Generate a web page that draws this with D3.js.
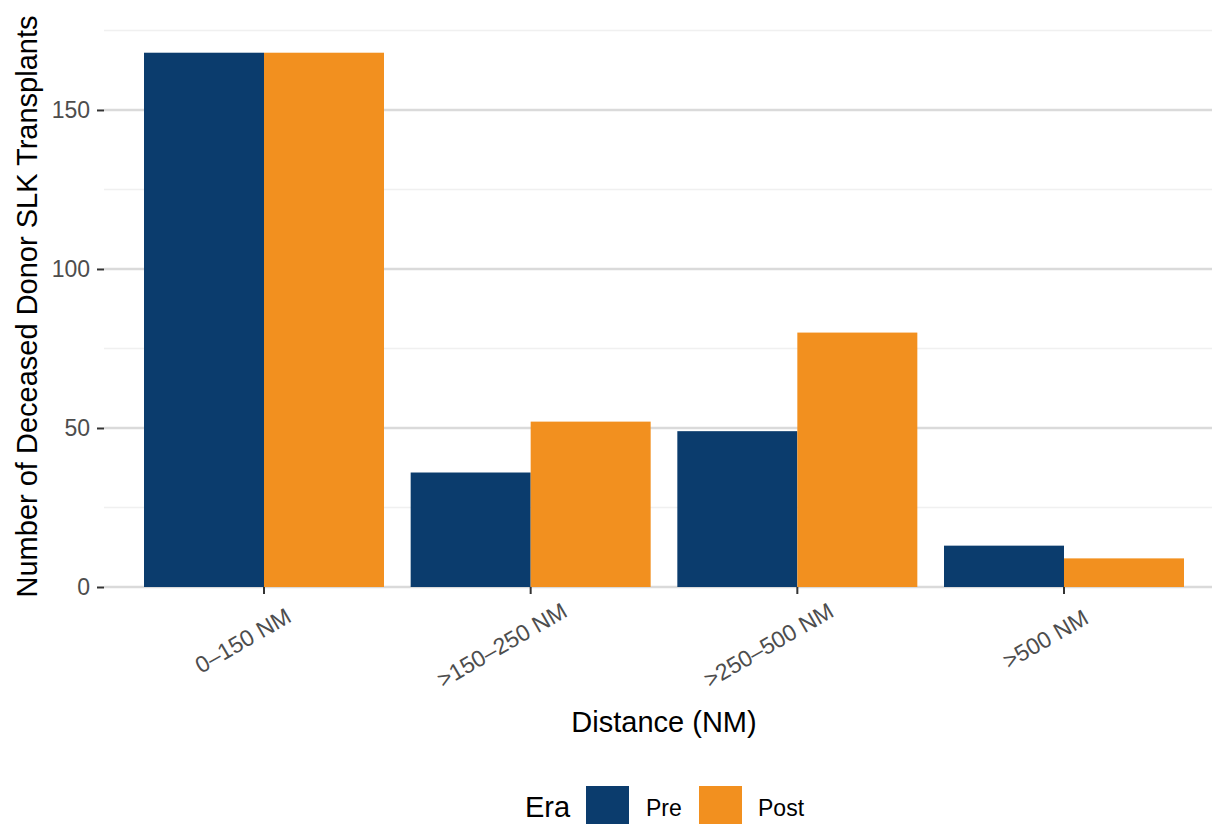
<!DOCTYPE html>
<html>
<head>
<meta charset="utf-8">
<script src="https://cdn.jsdelivr.net/npm/d3@7"></script>
<style>
  html, body { margin: 0; padding: 0; background: #ffffff; }
  svg { display: block; }
  text { font-family: "Liberation Sans", Arial, Helvetica, sans-serif; }
</style>
</head>
<body>
<svg id="chart" width="1212" height="824"></svg>
<script>
// ---- data ----
const categories = ["0\u2013150 NM", ">150\u2013250 NM", ">250\u2013500 NM", ">500 NM"];
const eras = ["Pre", "Post"];
const preValues = [168, 36, 49, 13];
const postValues = [168, 52, 80, 9];
const yTicks = [0, 50, 100, 150];
const yMinorTicks = [25, 75, 125, 175];
const eraColors = ["#0b3c6d", "#f2901f"];

const rows = categories.map((c, i) => ({ cat: c, Pre: preValues[i], Post: postValues[i] }));

// ---- layout ----
const svg = d3.select("#chart");
const W = 1212, H = 824;
const panel = { left: 104, right: 1224, top: 26, bottom: 587 };
const maxVal = d3.max([...preValues, ...postValues]);

const x = d3.scaleBand().domain(categories)
  .range([panel.left, panel.right]).paddingInner(0.1).paddingOuter(0.15);
const xe = d3.scaleBand().domain(eras).range([0, x.bandwidth()]).padding(0);
const y = d3.scaleLinear().domain([0, maxVal * 1.05]).range([panel.bottom, panel.top]);
const color = d3.scaleOrdinal().domain(eras).range(eraColors);

// gridlines
const g = svg.append("g");
g.selectAll("line.minor").data(yMinorTicks).join("line")
  .attr("x1", panel.left).attr("x2", panel.right)
  .attr("y1", d => y(d)).attr("y2", d => y(d))
  .attr("stroke", "#f0f0f0").attr("stroke-width", 1.4);
g.selectAll("line.major").data(yTicks).join("line")
  .attr("x1", panel.left).attr("x2", panel.right)
  .attr("y1", d => y(d)).attr("y2", d => y(d))
  .attr("stroke", "#dadada").attr("stroke-width", 2.6);

// bars
const groups = svg.append("g").selectAll("g").data(rows).join("g")
  .attr("transform", d => `translate(${x(d.cat)},0)`);
groups.selectAll("rect").data(d => eras.map(e => ({ era: e, v: d[e] }))).join("rect")
  .attr("x", d => xe(d.era))
  .attr("width", xe.bandwidth())
  .attr("y", d => y(d.v))
  .attr("height", d => y(0) - y(d.v))
  .attr("fill", d => color(d.era));

// y axis
const yAxis = d3.axisLeft(y).tickValues(yTicks).tickSize(7).tickPadding(7);
const ya = svg.append("g").attr("transform", `translate(${panel.left},0)`).call(yAxis);
ya.select(".domain").remove();
ya.selectAll(".tick line").attr("stroke", "#333333").attr("stroke-width", 2);
ya.selectAll(".tick text").attr("fill", "#4d4d4d").attr("font-size", 23)
  .attr("font-family", "'Liberation Sans', Arial, sans-serif");

// x axis
const xAxis = d3.axisBottom(x).tickSize(7).tickFormat(() => "");
const xa = svg.append("g").attr("transform", `translate(0,${panel.bottom})`).call(xAxis);
xa.select(".domain").remove();
xa.selectAll(".tick line").attr("stroke", "#333333").attr("stroke-width", 2);
xa.selectAll(".tick text").remove();

// rotated x labels
const labelY = 628;
const hj = 0.73;
svg.append("g").selectAll("text").data(categories).join("text")
  .attr("transform", d => `translate(${x(d) + x.bandwidth() / 2},${labelY}) rotate(-30)`)
  .attr("text-anchor", "middle")
  .attr("dy", "0.36em")
  .attr("fill", "#4d4d4d")
  .attr("font-size", 23)
  .text(d => d)
  .each(function () {
    const w = this.getComputedTextLength();
    d3.select(this).attr("x", (0.5 - hj) * w);
  });

// axis titles
const midX = (panel.left + panel.right) / 2;
svg.append("text").attr("x", midX).attr("y", 732)
  .attr("text-anchor", "middle").attr("font-size", 29).attr("fill", "#000")
  .text("Distance (NM)");
svg.append("text")
  .attr("transform", `translate(37,${(panel.top + panel.bottom) / 2}) rotate(-90)`)
  .attr("text-anchor", "middle").attr("font-size", 29).attr("fill", "#000")
  .text("Number of Deceased Donor SLK Transplants");

// legend
const leg = svg.append("g");
const keySize = 43;
const keyTop = 786;
leg.append("text").attr("x", 525).attr("y", 817).attr("font-size", 29).attr("fill", "#000").text("Era");
const keyX = [586, 699];
const labX = [646, 758];
eras.forEach((e, i) => {
  leg.append("rect").attr("x", keyX[i]).attr("y", keyTop)
    .attr("width", keySize).attr("height", keySize).attr("fill", color(e));
  leg.append("text").attr("x", labX[i]).attr("y", 816)
    .attr("font-size", 23).attr("fill", "#000").text(e);
});
</script>
</body>
</html>
